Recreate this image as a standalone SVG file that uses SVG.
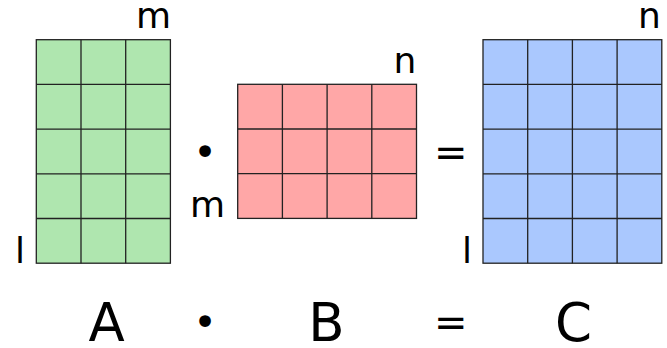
<svg xmlns="http://www.w3.org/2000/svg" width="667" height="348" viewBox="0 0 667 348">
<style>
.grid{stroke:#222;stroke-width:1.3;fill:none}
.a{fill:#afe6af}
.b{fill:#ffa7a7}
.c{fill:#aac8fe}
.frame{stroke:#222;stroke-width:1.3}
text{font-family:"DejaVu Sans",sans-serif;fill:#000}
.s{font-size:36px}
.big{font-size:53px;text-anchor:middle}
.op{font-size:40px;text-anchor:middle}
</style>
<rect width="667" height="348" fill="#fff"/>
<g id="matrixA">
<rect class="a frame" x="36.3" y="39.7" width="134.1" height="223.5"/>
<path class="grid" d="M81 39.7V263.2M125.7 39.7V263.2M36.3 84.4H170.4M36.3 129.1H170.4M36.3 173.8H170.4M36.3 218.5H170.4"/>
<text class="s" x="171" y="28.3" text-anchor="end">m</text>
<text class="s" x="15" y="263.3">l</text>
</g>
<g id="matrixB">
<rect class="b frame" x="237.7" y="84.3" width="178.8" height="134.1"/>
<path class="grid" d="M282.4 84.3V218.4M327.1 84.3V218.4M371.8 84.3V218.4M237.7 129H416.5M237.7 173.7H416.5"/>
<text class="s" x="393.4" y="73.3">n</text>
<text class="s" x="190" y="216.7">m</text>
</g>
<g id="matrixC">
<rect class="c frame" x="483" y="39.7" width="178.8" height="223.5"/>
<path class="grid" d="M527.7 39.7V263.2M572.4 39.7V263.2M617.1 39.7V263.2M483 84.4H661.8M483 129.1H661.8M483 173.8H661.8M483 218.5H661.8"/>
<text class="s" x="638" y="28.3">n</text>
<text class="s" x="462" y="263.3">l</text>
</g>
<g id="operators">
<text class="op" x="205" y="166">•</text>
<text class="op" x="450.8" y="166">=</text>
</g>
<g id="labels">
<text class="big" x="106.7" y="341">A</text>
<text class="op" x="205" y="336">•</text>
<text class="big" x="326.4" y="341">B</text>
<text class="op" x="450.8" y="336">=</text>
<text class="big" x="573.4" y="341">C</text>
</g>
<g id="connectors"/>
</svg>
